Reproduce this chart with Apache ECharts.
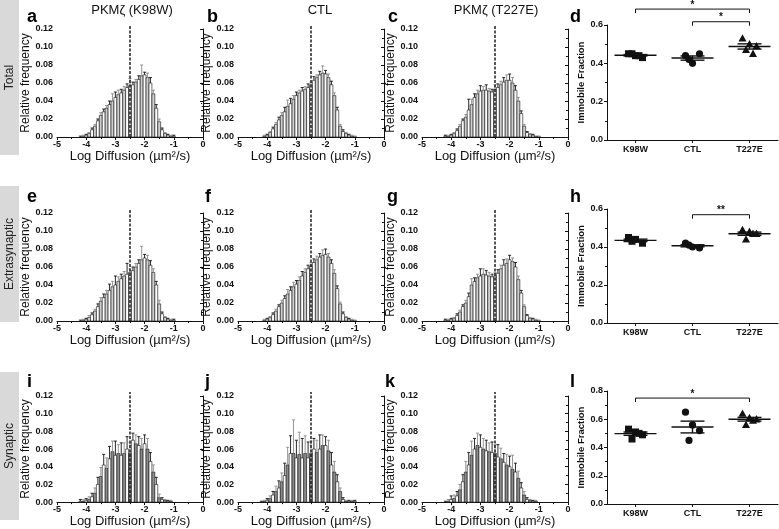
<!DOCTYPE html>
<html><head><meta charset="utf-8">
<script src="https://cdn.jsdelivr.net/npm/echarts@6/dist/echarts.min.js"></script>
<style>html,body{margin:0;padding:0;background:#fff}#c{width:779px;height:529px}</style>
</head><body><div id="c"></div>
<script>
// ---------- DATA ----------
const bins = [-4.2,-4.1,-4.0,-3.9,-3.8,-3.7,-3.6,-3.5,-3.4,-3.3,-3.2,-3.1,-3.0,-2.9,-2.8,-2.7,-2.6,-2.5,-2.4,-2.3,-2.2,-2.1,-2.0,-1.9,-1.8,-1.7,-1.6,-1.5,-1.4,-1.3,-1.2,-1.1,-1.0,-0.9];
const thresholdLog = -2.5;

const histA = [0.000,0.001,0.002,0.004,0.008,0.012,0.018,0.024,0.028,0.032,0.036,0.040,0.044,0.047,0.049,0.052,0.055,0.057,0.058,0.061,0.064,0.068,0.069,0.066,0.060,0.048,0.032,0.017,0.008,0.004,0.002,0.001,0.001,0.000];
const errA  = [0.001,0.001,0.001,0.001,0.002,0.002,0.002,0.003,0.003,0.003,0.004,0.008,0.006,0.005,0.004,0.004,0.004,0.008,0.003,0.003,0.004,0.012,0.003,0.005,0.006,0.004,0.004,0.003,0.002,0.001,0.001,0.001,0.001,0.000];
const histB = [0.000,0.001,0.002,0.005,0.009,0.014,0.019,0.024,0.028,0.034,0.037,0.042,0.046,0.049,0.051,0.053,0.055,0.058,0.063,0.066,0.069,0.071,0.070,0.066,0.058,0.046,0.030,0.012,0.006,0.004,0.002,0.001,0.001,0.000];
const errB  = [0.000,0.001,0.001,0.001,0.002,0.002,0.003,0.003,0.005,0.007,0.006,0.004,0.004,0.003,0.004,0.003,0.004,0.003,0.004,0.003,0.004,0.008,0.004,0.004,0.004,0.003,0.003,0.002,0.002,0.001,0.001,0.001,0.000,0.000];
const histC = [0.001,0.001,0.002,0.004,0.007,0.012,0.018,0.022,0.030,0.036,0.044,0.048,0.051,0.052,0.052,0.051,0.050,0.053,0.055,0.058,0.061,0.063,0.063,0.060,0.052,0.040,0.026,0.012,0.005,0.003,0.002,0.001,0.001,0.000];
const errC  = [0.001,0.001,0.001,0.001,0.002,0.002,0.002,0.003,0.012,0.006,0.004,0.004,0.006,0.004,0.006,0.003,0.003,0.005,0.004,0.004,0.005,0.006,0.007,0.006,0.005,0.004,0.003,0.002,0.001,0.001,0.001,0.000,0.000,0.000];

const histE = [0.000,0.001,0.002,0.004,0.007,0.011,0.016,0.022,0.026,0.030,0.034,0.038,0.040,0.044,0.047,0.050,0.052,0.054,0.056,0.060,0.064,0.068,0.070,0.068,0.062,0.054,0.040,0.019,0.008,0.004,0.002,0.001,0.001,0.000];
const errE  = [0.001,0.001,0.001,0.002,0.002,0.002,0.003,0.004,0.004,0.004,0.007,0.006,0.010,0.005,0.005,0.005,0.012,0.004,0.004,0.004,0.004,0.015,0.004,0.005,0.005,0.004,0.004,0.004,0.002,0.001,0.001,0.001,0.001,0.000];
const histF = [0.000,0.001,0.002,0.004,0.007,0.011,0.016,0.020,0.025,0.030,0.034,0.038,0.041,0.045,0.050,0.054,0.058,0.061,0.065,0.068,0.071,0.073,0.074,0.071,0.064,0.053,0.036,0.019,0.008,0.004,0.002,0.001,0.001,0.000];
const errF  = [0.000,0.001,0.001,0.001,0.002,0.002,0.002,0.003,0.003,0.005,0.004,0.005,0.004,0.004,0.005,0.004,0.004,0.004,0.004,0.004,0.004,0.006,0.006,0.004,0.004,0.004,0.003,0.002,0.002,0.001,0.001,0.001,0.000,0.000];
const histG = [0.001,0.001,0.002,0.003,0.006,0.010,0.016,0.020,0.027,0.040,0.044,0.048,0.050,0.052,0.051,0.050,0.049,0.050,0.053,0.058,0.062,0.064,0.068,0.066,0.060,0.046,0.031,0.016,0.006,0.003,0.002,0.001,0.001,0.000];
const errG  = [0.001,0.001,0.001,0.001,0.002,0.002,0.002,0.003,0.004,0.007,0.004,0.004,0.008,0.006,0.005,0.004,0.003,0.004,0.004,0.004,0.006,0.005,0.005,0.004,0.005,0.004,0.003,0.002,0.001,0.001,0.001,0.001,0.000,0.000];

const histI = [0.001,0.001,0.002,0.003,0.006,0.010,0.020,0.029,0.042,0.038,0.049,0.057,0.053,0.055,0.053,0.055,0.060,0.055,0.070,0.066,0.064,0.060,0.066,0.060,0.046,0.034,0.020,0.005,0.003,0.002,0.001,0.001,0.000,0.000];
const errI  = [0.002,0.002,0.002,0.003,0.004,0.006,0.008,0.010,0.012,0.012,0.014,0.012,0.016,0.010,0.014,0.012,0.014,0.012,0.008,0.010,0.010,0.012,0.010,0.012,0.010,0.008,0.008,0.004,0.002,0.001,0.001,0.001,0.000,0.000];
const histJ = [0.000,0.001,0.002,0.004,0.008,0.012,0.016,0.023,0.030,0.042,0.055,0.055,0.050,0.054,0.050,0.055,0.050,0.055,0.060,0.056,0.060,0.064,0.064,0.058,0.042,0.034,0.023,0.012,0.003,0.001,0.001,0.001,0.001,0.000];
const errJ  = [0.001,0.001,0.002,0.003,0.004,0.006,0.008,0.010,0.014,0.020,0.020,0.038,0.020,0.025,0.022,0.020,0.018,0.014,0.012,0.014,0.016,0.012,0.010,0.012,0.014,0.012,0.008,0.004,0.002,0.001,0.001,0.001,0.001,0.000];
const histK = [0.000,0.001,0.003,0.004,0.007,0.014,0.023,0.034,0.042,0.053,0.060,0.064,0.062,0.060,0.058,0.057,0.056,0.055,0.051,0.049,0.045,0.042,0.040,0.037,0.034,0.027,0.016,0.008,0.003,0.002,0.001,0.001,0.000,0.000];
const errK  = [0.001,0.002,0.004,0.004,0.005,0.006,0.008,0.012,0.014,0.016,0.012,0.014,0.014,0.012,0.012,0.010,0.012,0.010,0.014,0.012,0.010,0.012,0.012,0.016,0.010,0.008,0.006,0.004,0.002,0.001,0.001,0.001,0.000,0.000];

const groups = ['K98W','CTL','T227E'];
const k98wD = [0.45,0.44,0.43,0.45,0.44];
const ctlD  = [0.44,0.40,0.45,0.42];
const t227eD= [0.53,0.50,0.49,0.47,0.45];
const k98wH = [0.45,0.44,0.42,0.43];
const ctlH  = [0.42,0.40,0.395,0.41];
const t227eH= [0.49,0.48,0.47,0.44,0.47];
const k98wL = [0.53,0.51,0.49,0.46,0.50];
const ctlL  = [0.65,0.56,0.52,0.45];
const t227eL= [0.64,0.61,0.60,0.56,0.59];

const bracketsD = [[0,2,0.683],[1,2,0.617]];
const bracketLabelsD = ['*','*'];
const bracketsH = [[1,2,0.57]];
const bracketLabelsH = ['**'];
const bracketsL = [[0,2,0.75]];
const bracketLabelsL = ['*'];

const histYTicks = [0,0.02,0.04,0.06,0.08,0.10,0.12];
const histXTicks = [-5,-4,-3,-2,-1,0];

// ---------- BUILD ----------
const FONT = 'Liberation Sans, Arial, Helvetica, sans-serif';
const grids=[], xAxes=[], yAxes=[], series=[];

function histRender(dark){
  return function(params, api){
    const x=api.value(0), y=api.value(1), e=api.value(2);
    const a=api.coord([x-0.05,0]), b=api.coord([x+0.05,y]), t=api.coord([x,y+e]);
    const cx=(a[0]+b[0])/2;
    const odd=params.dataIndex%2===1;
    const ch=[];
    if (y>0) ch.push({type:'rect',shape:{x:a[0],y:b[1],width:b[0]-a[0],height:a[1]-b[1]},
      style:{fill: odd?(dark?'#8c8c8c':'#cfcfcf'):'#ffffff', stroke:'#111', lineWidth:0.6}});
    if (e>0){
      const col = odd?'#8a8a8a':'#111';
      ch.push({type:'line',shape:{x1:cx,y1:b[1],x2:cx,y2:t[1]},style:{stroke:col,lineWidth:0.9}});
      ch.push({type:'line',shape:{x1:cx-1.5,y1:t[1],x2:cx+1.5,y2:t[1]},style:{stroke:col,lineWidth:0.9}});
    }
    return {type:'group',children:ch};
  };
}

function histPanel(left, top, vals, errs, dark){
  const gi=grids.length;
  grids.push({left:left, top:top, width:146, height:108});
  xAxes.push({gridIndex:gi, type:'value', min:histXTicks[0], max:histXTicks[histXTicks.length-1], interval:1,
    name:'Log Diffusion (µm²/s)', nameLocation:'middle', nameGap:11,
    nameTextStyle:{fontFamily:FONT,fontSize:13,color:'#111'},
    axisLine:{onZero:false,lineStyle:{color:'#111',width:1}},
    axisTick:{length:3,lineStyle:{color:'#111'}},
    minorTick:{show:true,splitNumber:2,length:2,lineStyle:{color:'#111'}},
    splitLine:{show:false},
    axisLabel:{margin:3,fontFamily:FONT,fontWeight:'bold',fontSize:9,color:'#111'}});
  yAxes.push({gridIndex:gi, type:'value', min:0, max:histYTicks[histYTicks.length-1], interval:0.02,
    name:'Relative frequency', nameLocation:'middle', nameGap:22,
    nameTextStyle:{fontFamily:FONT,fontSize:12,color:'#111'},
    axisLine:{show:true,lineStyle:{color:'#111',width:1}},
    axisTick:{show:true,length:3,lineStyle:{color:'#111'}},
    minorTick:{show:true,splitNumber:2,length:2,lineStyle:{color:'#111'}},
    splitLine:{show:false},
    axisLabel:{margin:4,fontFamily:FONT,fontWeight:'bold',fontSize:9,color:'#111',formatter:v=>v.toFixed(2)}});
  series.push({type:'custom', xAxisIndex:gi, yAxisIndex:gi, clip:false, silent:true,
    data: bins.map((b,i)=>[b, vals[i], errs[i]]), renderItem: histRender(dark), z:2});
  series.push({type:'custom', xAxisIndex:gi, yAxisIndex:gi, clip:false, silent:true,
    data:[[thresholdLog]], z:5,
    renderItem:(params, api)=>{
      const p0=api.coord([api.value(0),0]), p1=api.coord([api.value(0),0.1245]);
      return {type:'line',shape:{x1:p0[0],y1:p0[1],x2:p1[0],y2:p1[1]},style:{stroke:'#111',lineWidth:1.4,lineDash:[3,1.5]}};
    }});
}

function mean(a){return a.reduce((s,v)=>s+v,0)/a.length;}
function sem(a){const m=mean(a);return Math.sqrt(a.reduce((s,v)=>s+(v-m)*(v-m),0)/(a.length-1))/Math.sqrt(a.length);}

const jitter=[-7,0,7,-3.5,3.5];
function scatterPanel(top, height, ymax, sets, brackets, blabels){
  const gi=grids.length;
  grids.push({left:607, top:top, width:171, height:height});
  xAxes.push({gridIndex:gi, type:'category', data:groups, boundaryGap:true,
    axisLine:{lineStyle:{color:'#111',width:1}},
    axisTick:{show:true,alignWithLabel:true,length:3,lineStyle:{color:'#111'}},
    axisLabel:{margin:5,fontFamily:FONT,fontWeight:'bold',fontSize:9,color:'#111'}});
  yAxes.push({gridIndex:gi, type:'value', min:0, max:ymax, interval:0.2,
    name:'Immobile Fraction', nameLocation:'middle', nameGap:17,
    nameTextStyle:{fontFamily:FONT,fontSize:9.5,fontWeight:'bold',color:'#111'},
    axisLine:{show:true,lineStyle:{color:'#111',width:1}},
    axisTick:{show:true,length:3,lineStyle:{color:'#111'}},
    minorTick:{show:true,splitNumber:2,length:2,lineStyle:{color:'#111'}},
    splitLine:{show:false},
    axisLabel:{margin:4,fontFamily:FONT,fontWeight:'bold',fontSize:9,color:'#111',formatter:v=>v.toFixed(1)}});
  const shapes=['square','circle','triangle'];
  const pts=[];
  sets.forEach((arr,g)=>arr.forEach((v,k)=>pts.push([g,v,k,g])));
  series.push({type:'custom', xAxisIndex:gi, yAxisIndex:gi, clip:false, silent:true, data:pts, z:3,
    renderItem:(params, api)=>{
      const p=api.coord([api.value(0),api.value(1)]);
      const x=p[0]+jitter[api.value(2)%jitter.length], y=p[1];
      const s=shapes[api.value(3)];
      if (s==='square') return {type:'rect',shape:{x:x-3.5,y:y-3.5,width:7,height:7},style:{fill:'#111'}};
      if (s==='circle') return {type:'circle',shape:{cx:x,cy:y,r:3.6},style:{fill:'#111'}};
      return {type:'polygon',shape:{points:[[x,y-4.2],[x-4,y+3.2],[x+4,y+3.2]]},style:{fill:'#111'}};
    }});
  const ms=sets.map((arr,g)=>[g, mean(arr), sem(arr)]);
  series.push({type:'custom', xAxisIndex:gi, yAxisIndex:gi, clip:false, silent:true, data:ms, z:4,
    renderItem:(params, api)=>{
      const m=api.value(1), s=api.value(2);
      const pm=api.coord([api.value(0),m]), pu=api.coord([api.value(0),m+s]), pl=api.coord([api.value(0),m-s]);
      const x=pm[0], st={stroke:'#111',lineWidth:1.4};
      return {type:'group',children:[
        {type:'line',shape:{x1:x-21,y1:pm[1],x2:x+21,y2:pm[1]},style:st},
        {type:'line',shape:{x1:x,y1:pu[1],x2:x,y2:pl[1]},style:st},
        {type:'line',shape:{x1:x-12,y1:pu[1],x2:x+12,y2:pu[1]},style:st},
        {type:'line',shape:{x1:x-12,y1:pl[1],x2:x+12,y2:pl[1]},style:st}]};
    }});
  series.push({type:'custom', xAxisIndex:gi, yAxisIndex:gi, clip:false, silent:true,
    data:brackets.map((b,i)=>({value:b, name:blabels[i]})), z:4,
    renderItem:(params, api)=>{
      const a=api.coord([api.value(0),api.value(2)]), b=api.coord([api.value(1),api.value(2)]);
      const lab=blabels[params.dataIndex];
      return {type:'group',children:[
        {type:'polyline',shape:{points:[[a[0],a[1]+4],[a[0],a[1]],[b[0],a[1]],[b[0],a[1]+4]]},style:{stroke:'#111',lineWidth:1,fill:null}},
        {type:'text',style:{x:(a[0]+b[0])/2,y:a[1]+1,text:lab,align:'center',verticalAlign:'bottom',font:'bold 10px '+FONT,fill:'#111'}}]};
    }});
}

const colLeft=[57,238,422];
const rowTop=[29,213,396];
histPanel(colLeft[0],rowTop[0],histA,errA,false);
histPanel(colLeft[1],rowTop[0],histB,errB,false);
histPanel(colLeft[2],rowTop[0],histC,errC,false);
histPanel(colLeft[0],rowTop[1],histE,errE,false);
histPanel(colLeft[1],rowTop[1],histF,errF,false);
histPanel(colLeft[2],rowTop[1],histG,errG,false);
histPanel(colLeft[0],rowTop[2],histI,errI,true);
histPanel(colLeft[1],rowTop[2],histJ,errJ,true);
histPanel(colLeft[2],rowTop[2],histK,errK,true);
scatterPanel(25,115,0.6,[k98wD,ctlD,t227eD],bracketsD,bracketLabelsD);
scatterPanel(209,114,0.6,[k98wH,ctlH,t227eH],bracketsH,bracketLabelsH);
scatterPanel(391,113,0.8,[k98wL,ctlL,t227eL],bracketsL,bracketLabelsL);

// ---------- ANNOTATIONS ----------
const rowLabels=[['Total',0,155],['Extrasynaptic',186,322],['Synaptic',372,520]];
const letters=[['a',27,17],['b',207,17],['c',388,17],['d',570,17],
               ['e',27,197],['f',205,197],['g',387,197],['h',570,197],
               ['i',27,382],['j',205,382],['k',385,382],['l',570,382]];
const titles=[['PKMζ (K98W)',132],['CTL',320],['PKMζ (T227E)',496]];
const graphic=[];
rowLabels.forEach(r=>{
  graphic.push({type:'rect',shape:{x:0,y:r[1],width:19,height:r[2]-r[1]},style:{fill:'#d9d9d9'},z:0});
  graphic.push({type:'text',x:10,y:(r[1]+r[2])/2,rotation:Math.PI/2,style:{text:r[0],align:'center',verticalAlign:'middle',font:'12px '+FONT,fill:'#222'},z:1});
});
letters.forEach(l=>graphic.push({type:'text',x:l[1],y:l[2],style:{text:l[0],align:'left',verticalAlign:'middle',font:'bold 18px '+FONT,fill:'#000'}}));
titles.forEach(t=>graphic.push({type:'text',x:t[1],y:10,style:{text:t[0],align:'center',verticalAlign:'middle',font:'13px '+FONT,fill:'#111'}}));

const chart=echarts.init(document.getElementById('c'),null,{renderer:'canvas'});
chart.setOption({animation:false, backgroundColor:'#fff', grid:grids, xAxis:xAxes, yAxis:yAxes, series:series, graphic:graphic});
</script></body></html>
